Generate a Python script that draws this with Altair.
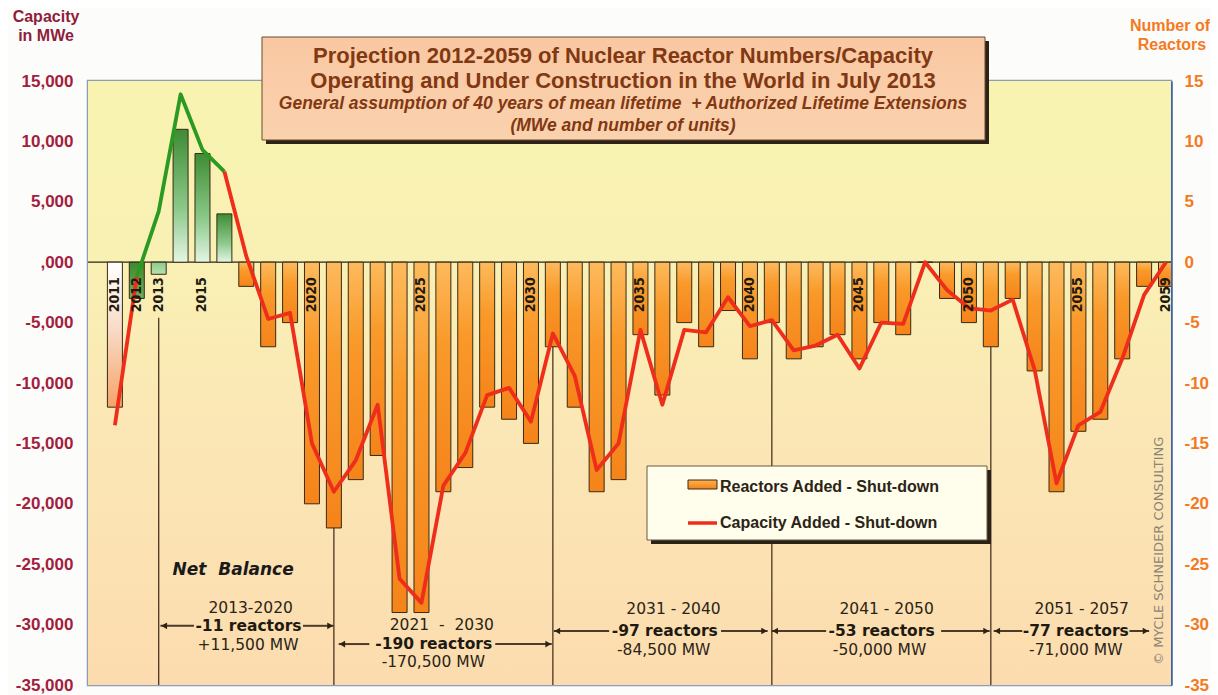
import altair as alt
import pandas as pd

# ---------------- data ----------------
years = list(range(2011, 2060))
reactors = [-12, -3, -1, 11, 9, 4, -2, -7, -5, -20,
            -22, -18, -16, -29, -29, -19, -17, -12, -13, -15,
            -7, -12, -19, -18, -6, -11, -5, -7, -4, -8,
            -5, -8, -7, -6, -8, -5, -6, 0, -3, -5,
            -7, -3, -9, -19, -14, -13, -8, -2, -2]
capacity = [-13500, -1200, 4200, 13900, 9300, 7500, 500, -4700, -4200, -15000,
            -19000, -16400, -11800, -26200, -28200, -18500, -15800, -11000, -10400, -13200,
            -5900, -9400, -17200, -15000, -5600, -11800, -5600, -5800, -2900, -5300,
            -4800, -7300, -6900, -6000, -8800, -5000, -5100, 0, -2300, -3800,
            -4000, -3100, -8900, -18300, -13500, -12400, -8000, -2700, 0]

label_years = [2011, 2012, 2013, 2015, 2020, 2025, 2030, 2035, 2040, 2045, 2050, 2055, 2059]
period_starts = [2013, 2021, 2031, 2041, 2051]
period_labels = ["2013-2020", "2021\u00a0\u00a0-\u00a0\u00a02030", "2031 - 2040", "2041 - 2050", "2051 - 2057"]
period_reactors = ["-11 reactors", "-190 reactors", "-97 reactors", "-53 reactors", "-77 reactors"]
period_mw = ["+11,500 MW", "-170,500 MW", "-84,500 MW", "-50,000 MW", "-71,000 MW"]

left_ticks = list(range(-35000, 15001, 5000))
right_ticks = list(range(-35, 16, 5))

# ---------------- layout helpers ----------------
W, H = 1083, 604
xs = alt.Scale(domain=[2010, 2059], nice=False, zero=False)
ys = alt.Scale(domain=[-35000, 15000], nice=False, zero=False)
left_axis = alt.Axis(values=left_ticks, title=None, grid=False, ticks=False, domain=False,
                     labelExpr="datum.value == 0 ? ',000' : replace(format(datum.value, ','), '\u2212', '-')",
                     labelColor="#A3203D", labelFont="Liberation Sans", labelFontWeight="bold",
                     labelFontSize=17, labelPadding=15)


def X(f):
    return alt.X(f, scale=xs, axis=None)


def Y(f):
    return alt.Y(f, scale=ys, axis=left_axis)


def grad(stops, horizontal=False):
    return alt.Gradient(gradient="linear",
                        stops=[alt.GradientStop(offset=o, color=c) for o, c in stops],
                        x1=0, y1=0, x2=1 if horizontal else 0, y2=0 if horizontal else 1)


one = pd.DataFrame({"k": [0]})

df = pd.DataFrame({"year": years, "reactors": reactors, "capacity": capacity})
df["mwe"] = df["reactors"] * 1000


def grp(y):
    if y == 2011:
        return "w"
    if y == 2012:
        return "g1"
    if y == 2013:
        return "g2"
    if y <= 2016:
        return "gp"
    return "o"


df["grp"] = [grp(y) for y in years]

# background of plot area
bg = alt.Chart(one).mark_rect(
    fill=grad([(0, "#F8F4B0"), (0.3, "#F9F0B4"), (0.6, "#FBE6B5"), (1, "#FCDCAE")])
).encode(x=alt.value(0), x2=alt.value(W), y=alt.value(0), y2=alt.value(H))

zero_df = pd.DataFrame({"z": [0]})
zero_line = alt.Chart(zero_df).mark_rule(color="#2A2418", strokeWidth=1.2).encode(y=Y("z:Q"))

# vertical period separators
drop_df = pd.DataFrame({"year": period_starts,
                        "top": [-4600, -22000, -7000, -5000, -7000],
                        "bottom": [-35000] * 5})
drops = alt.Chart(drop_df).mark_rule(color="#4A3522", strokeWidth=1.3).encode(
    x=X("year:Q"), y=Y("top:Q"), y2="bottom:Q")


def bar_layer(g, fill):
    return alt.Chart(df).transform_filter(alt.datum.grp == g).mark_bar(
        width=15, fill=fill, stroke="#3A2A14", strokeWidth=1, clip=True
    ).encode(x=X("year:Q"), y=Y("mwe:Q"))


bars = [
    bar_layer("o", grad([(0, "#FDBA5C"), (0.35, "#F99A2A"), (1, "#F5841A")])),
    bar_layer("w", grad([(0, "#FFFFFF"), (0.45, "#F8DCC8"), (1, "#F4A468")])),
    bar_layer("g1", grad([(0, "#3E8A30"), (1, "#6FAE55")])),
    bar_layer("g2", grad([(0, "#8CCB86"), (1, "#B5E2B0")])),
    bar_layer("gp", grad([(0, "#3F8C34"), (0.6, "#8CC98A"), (1, "#E4F6E4")])),
]

# capacity line (green while net positive, red otherwise)
rows = []
for y, c in zip(years, capacity):
    if y <= 2012:
        rows.append({"year": y, "capacity": c, "seg": "a"})
    if 2012 <= y <= 2016:
        rows.append({"year": y, "capacity": c, "seg": "b"})
    if y >= 2016:
        rows.append({"year": y, "capacity": c, "seg": "c"})
line_df = pd.DataFrame(rows)
cap_line = alt.Chart(line_df).mark_line(strokeWidth=3.8, strokeJoin="round", clip=True).encode(
    x=X("year:Q"), y=Y("capacity:Q"),
    color=alt.Color("seg:N", scale=alt.Scale(domain=["a", "b", "c"], range=["#EE2E1B", "#2C9A22", "#EE2E1B"]),
                    legend=None),
    detail="seg:N")

# year labels inside the plot
lab_df = pd.DataFrame({"year": label_years, "txt": [str(v) for v in label_years], "ly": [-1250] * len(label_years)})
year_labels = alt.Chart(lab_df).mark_text(
    angle=270, align="right", baseline="middle", fontSize=14, fontWeight="bold",
    font="DejaVu Sans Condensed, Liberation Sans Narrow, DejaVu Sans", color="#1E1A12"
).encode(x=X("year:Q"), y=Y("ly:Q"), text="txt:N")

# period annotations
ann_reg = pd.DataFrame({
    "x": [2017.2, 2025.93, 2036.51, 2046.24, 2055.15,
          2017.08, 2025.54, 2036.06, 2045.92, 2054.88],
    "y": [-28600, -30030, -28710, -28710, -28710,
          -31700, -33100, -32100, -32100, -32100],
    "t": period_labels + period_mw})
ann_bold = pd.DataFrame({
    "x": [2017.1, 2025.56, 2036.11, 2046.01, 2054.88],
    "y": [-30100, -31610, -30530, -30530, -30530],
    "t": period_reactors})
txt_reg = alt.Chart(ann_reg).mark_text(font="DejaVu Sans", fontSize=15.5, color="#2A2418",
                                       baseline="middle").encode(x=X("x:Q"), y=Y("y:Q"), text="t:N")
txt_bold = alt.Chart(ann_bold).mark_text(font="DejaVu Sans", fontSize=15.5, fontWeight="bold",
                                         color="#1E1A12", baseline="middle").encode(
    x=X("x:Q"), y=Y("y:Q"), text="t:N")
net_df = pd.DataFrame({"x": [2016.4], "y": [-25450], "t": ["Net\u00a0\u00a0Balance"]})
net_txt = alt.Chart(net_df).mark_text(font="DejaVu Sans", fontSize=17, fontWeight="bold", fontStyle="italic",
                                      color="#1A1A1A", baseline="middle").encode(
    x=X("x:Q"), y=Y("y:Q"), text="t:N")

seg_df = pd.DataFrame({
    "x1": [2013.08, 2019.59, 2021.22, 2028.37, 2031.04, 2038.68, 2040.99, 2048.73, 2051.13, 2057.33],
    "x2": [2014.61, 2020.99, 2022.62, 2030.95, 2033.57, 2040.81, 2043.48, 2050.95, 2052.44, 2058.23],
    "y": [-30100, -30100, -31610, -31610, -30530, -30530, -30530, -30530, -30530, -30530]})
arrow_lines = alt.Chart(seg_df).mark_rule(color="#4D3B2A", strokeWidth=2).encode(
    x=X("x1:Q"), x2="x2:Q", y=Y("y:Q"))
head_l = pd.DataFrame({"x": [2013.25, 2021.38, 2031.2, 2041.15, 2051.29],
                       "y": [-30100, -31610, -30530, -30530, -30530]})
head_r = pd.DataFrame({"x": [2020.83, 2030.79, 2040.65, 2050.79, 2058.07],
                       "y": [-30100, -31610, -30530, -30530, -30530]})
heads_l = alt.Chart(head_l).mark_point(shape="triangle-left", filled=True, size=45, color="#2E2216",
                                       opacity=1).encode(x=X("x:Q"), y=Y("y:Q"))
heads_r = alt.Chart(head_r).mark_point(shape="triangle-right", filled=True, size=45, color="#2E2216",
                                       opacity=1).encode(x=X("x:Q"), y=Y("y:Q"))

# legend (drawn by hand)
leg_shadow = alt.Chart(one).mark_rect(fill="#2A2218").encode(
    x=alt.value(563), x2=alt.value(903), y=alt.value(389), y2=alt.value(463))
leg_box = alt.Chart(one).mark_rect(fill="#FFFDEB", stroke="#6B5A40", strokeWidth=1).encode(
    x=alt.value(559), x2=alt.value(899), y=alt.value(385), y2=alt.value(459))
leg_sw = alt.Chart(one).mark_rect(fill=grad([(0, "#FDB04E"), (1, "#F4831A")]), stroke="#3A2A14",
                                  strokeWidth=1).encode(
    x=alt.value(600), x2=alt.value(629), y=alt.value(399), y2=alt.value(408))
leg_ln = alt.Chart(one).mark_rule(color="#EE2E1B", strokeWidth=3.5).encode(
    x=alt.value(600), x2=alt.value(629), y=alt.value(442))
leg_t1 = alt.Chart(one).mark_text(text="Reactors Added - Shut-down", align="left", baseline="middle",
                                  font="Liberation Sans", fontSize=16, fontWeight="bold", color="#2B2418").encode(
    x=alt.value(632), y=alt.value(406))
leg_t2 = alt.Chart(one).mark_text(text="Capacity Added - Shut-down", align="left", baseline="middle",
                                  font="Liberation Sans", fontSize=16, fontWeight="bold", color="#2B2418").encode(
    x=alt.value(632), y=alt.value(442))

# title box
tb_shadow = alt.Chart(one).mark_rect(fill="#2E2218").encode(
    x=alt.value(178), x2=alt.value(901), y=alt.value(-40), y2=alt.value(63))
tb_box = alt.Chart(one).mark_rect(fill=grad([(0, "#F9C8A2"), (1, "#FAD2AE")]), stroke="#6A4A30",
                                  strokeWidth=1).encode(
    x=alt.value(174), x2=alt.value(897), y=alt.value(-44), y2=alt.value(59))
title_lines = [
    ("Projection 2012-2059 of Nuclear Reactor Numbers/Capacity", -25, 22, "normal"),
    ("Operating and Under Construction in the World in July 2013", 0, 22, "normal"),
    ("General assumption of 40 years of mean lifetime\u00a0\u00a0+ Authorized Lifetime Extensions", 23, 17.5,
     "italic"),
    ("(MWe and number of units)", 45, 17.5, "italic"),
]
titles = [alt.Chart(one).mark_text(text=t, align="center", baseline="middle", font="Liberation Sans",
                                   fontSize=fs, fontWeight="bold", fontStyle=st, color="#823812").encode(
    x=alt.value(535), y=alt.value(yy)) for t, yy, fs, st in title_lines]

# axis titles and credit
ax_t = [
    alt.Chart(one).mark_text(text=t, align="center", baseline="middle", font="Liberation Sans", fontSize=16,
                             fontWeight="bold", color=c).encode(x=alt.value(xx), y=alt.value(yy))
    for t, xx, yy, c in [("Capacity", -42, -64, "#8E1F3C"), ("in MWe", -42, -45, "#8E1F3C"),
                         ("Number of", 1082, -55, "#F47A22"), ("Reactors", 1084, -36, "#F47A22")]
]
credit = alt.Chart(one).mark_text(text="\u00a9 MYCLE SCHNEIDER CONSULTING", angle=270, align="left",
                                  baseline="middle", font="DejaVu Sans", fontSize=13,
                                  color="#8A8478").encode(x=alt.value(1071), y=alt.value(584))

main = alt.layer(bg, zero_line, drops, *bars, cap_line, year_labels, txt_reg, txt_bold, net_txt,
                 arrow_lines, heads_l, heads_r, leg_shadow, leg_box, leg_sw, leg_ln, leg_t1, leg_t2,
                 tb_shadow, tb_box, *titles, *ax_t, credit)

right_df = pd.DataFrame({"r": [-35, 15]})
right = alt.Chart(right_df).mark_point(opacity=0).encode(
    y=alt.Y("r:Q", scale=alt.Scale(domain=[-35, 15], nice=False, zero=False),
            axis=alt.Axis(orient="right", values=right_ticks, title=None, grid=False, ticks=False,
                          domainColor="#3D64A8", domainWidth=2.5,
                          labelExpr="replace(format(datum.value, 'd'), '\u2212', '-')",
                          labelColor="#F47A22", labelFont="Liberation Sans", labelFontWeight="bold",
                          labelFontSize=17, labelPadding=13)))

chart = alt.layer(main, right).resolve_scale(y="independent").properties(
    width=W, height=H,
    padding={"left": 80, "top": 73, "right": 39, "bottom": 10},
    autosize=alt.AutoSizeParams(type="none"),
    background="#FCFCFA",
).configure_view(stroke="#8C9CBD", strokeWidth=2.5)

chart.save("out.html", embed_options={"renderer": "svg", "actions": False})
